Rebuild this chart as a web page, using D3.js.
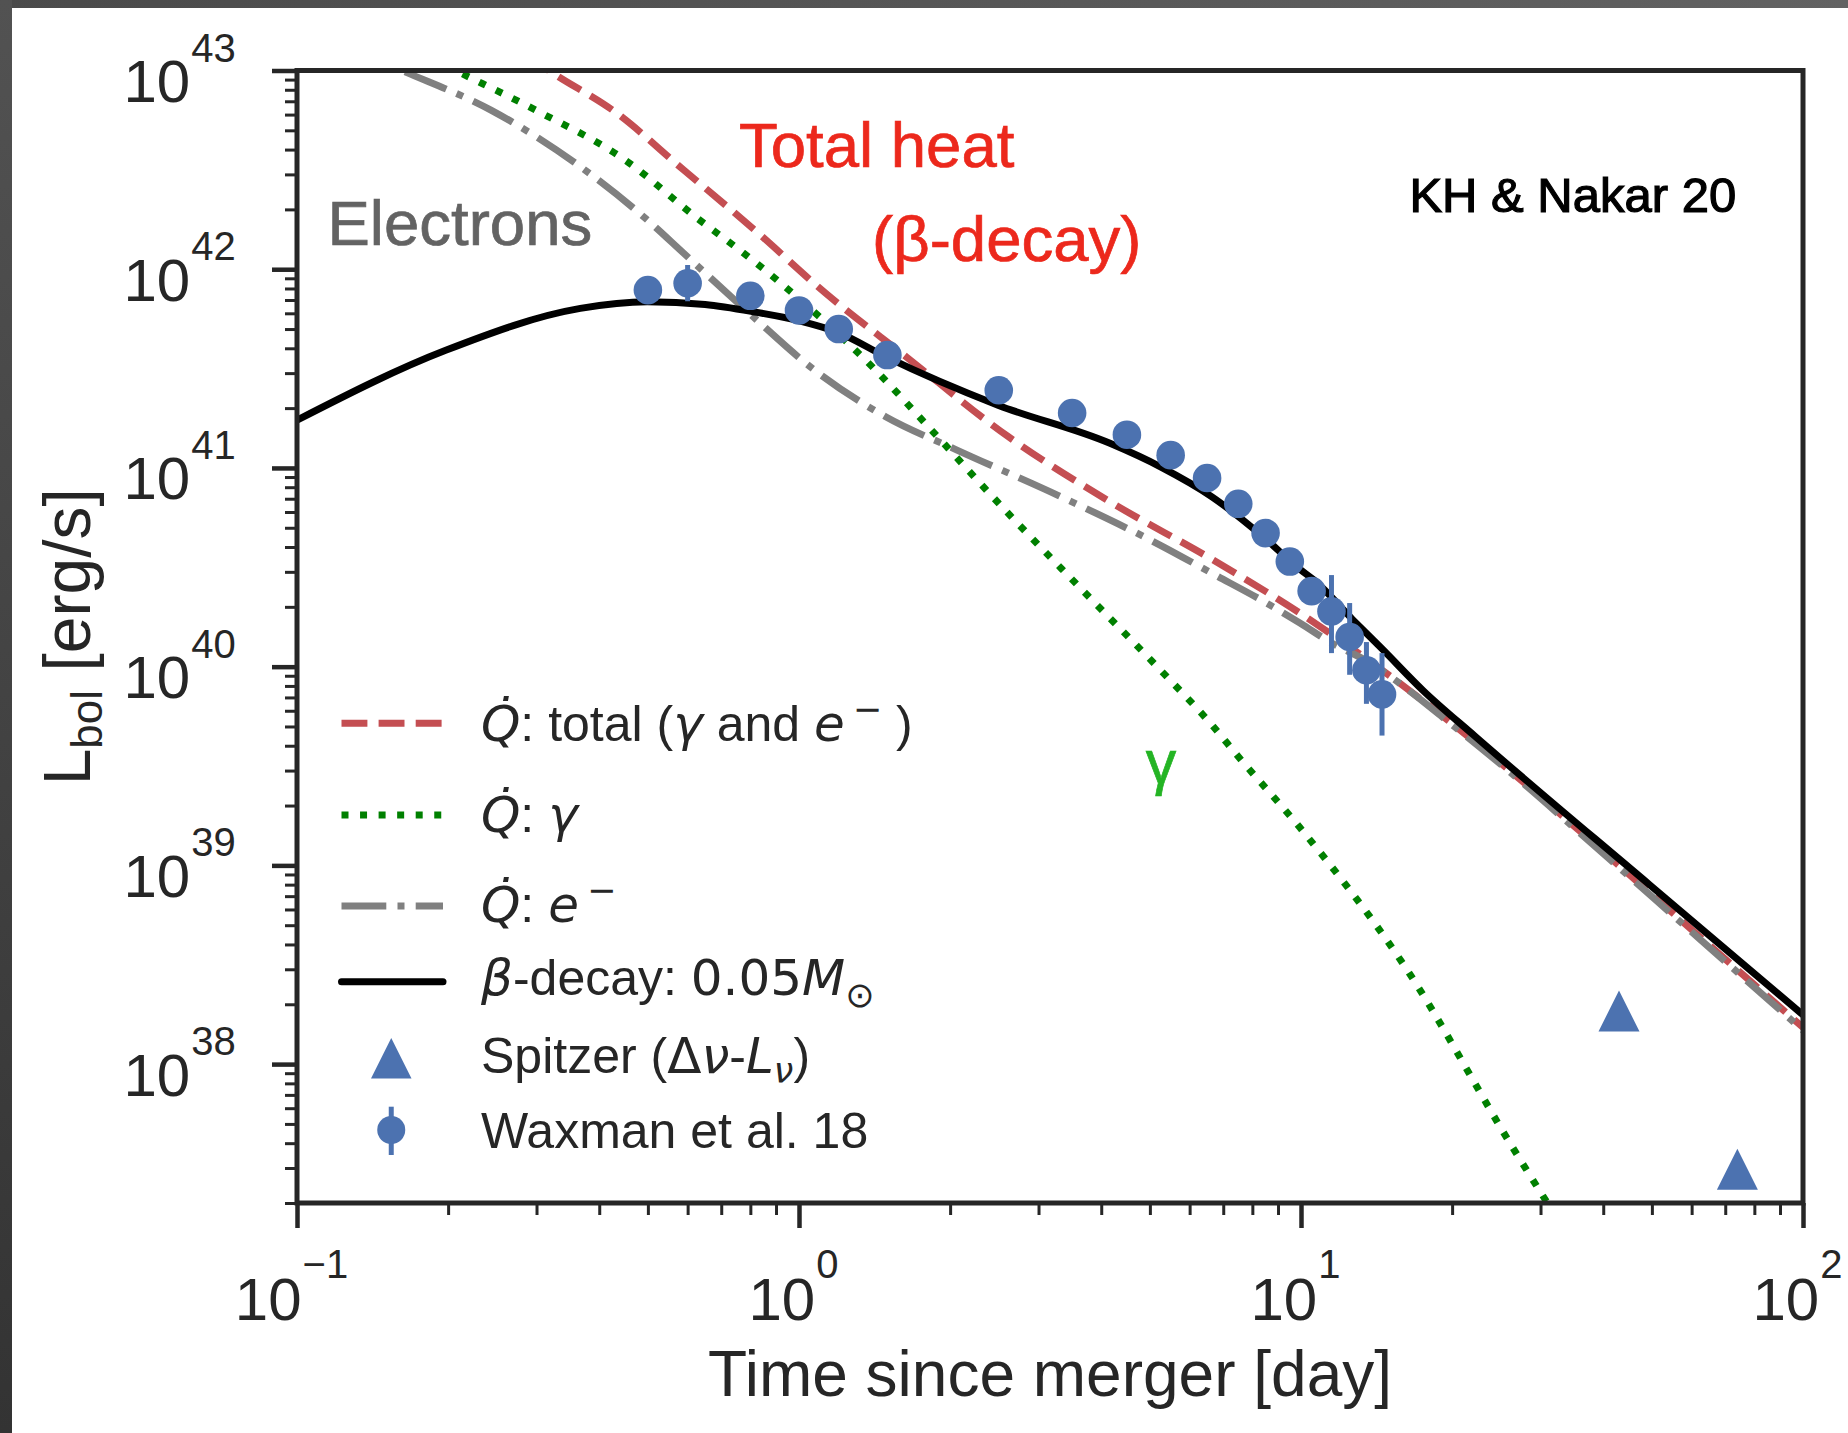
<!DOCTYPE html>
<html><head><meta charset="utf-8">
<script src="https://cdn.jsdelivr.net/npm/d3@7"></script>
<style>
html,body{margin:0;padding:0;background:#fff;}
svg{display:block;}
</style></head><body>
<svg id="chart" width="1848" height="1433"></svg>
<script>
// ---------------- data ----------------
const xTickExponents = [-1, 0, 1, 2];
const yTickExponents = [38, 39, 40, 41, 42, 43];

// Qdot: total (gamma and e-)
const totalHeatDays = [0.25, 0.3277, 0.426, 0.589, 0.815, 1.128, 1.634, 2.608, 4.164, 6.647, 9.95, 15.1, 27.8, 35.9, 61.9, 100];
const totalHeatLum  = [1.5e43, 9.49e42, 6.3e42, 3.16e42, 1.58e42, 7.6e41, 3.63e41, 1.44e41, 6.76e40, 3.47e40, 1.86e40, 8.91e39, 2.61e39, 1.49e39, 4.43e38, 1.53e38];

// Qdot: gamma
const gammaDays = [0.17, 0.207, 0.299, 0.45, 0.6245, 0.791, 1.098, 1.42, 1.836, 2.608, 3.622, 5.261, 6.68, 7.483, 9.95, 16.1, 26.6, 33];
const gammaLum  = [1.28e43, 1.0e43, 6.31e42, 3.55e42, 1.82e42, 1.16e42, 5.77e41, 3.11e41, 1.55e41, 5.92e40, 2.51e40, 9.55e39, 5.01e39, 3.55e39, 1.55e39, 3.1e38, 3.69e37, 1.55e37];

// Qdot: e-
const electronDays = [0.12, 0.1617, 0.2434, 0.3668, 0.4986, 0.59, 0.81, 1.073, 1.488, 2.064, 3.296, 5.261, 6.647, 8.4, 9.95, 11.43, 13.41, 20.2, 27.8, 35.9, 61.9, 100];
const electronLum  = [1.38e43, 1.0e43, 6.32e42, 3.28e42, 1.77e42, 1.2e42, 5.77e41, 3.11e41, 1.81e41, 1.23e41, 7.24e40, 4.07e40, 2.95e40, 2.14e40, 1.66e40, 1.33e40, 1.08e40, 5.0e39, 2.57e39, 1.46e39, 4.32e38, 1.48e38];

// beta-decay: 0.05 Msun
const betaDays = [0.1, 0.1984, 0.3668, 0.4986, 0.65, 0.81, 1.0, 1.2, 1.488, 2.491, 4.164, 5.261, 6.647, 8.4, 9.95, 10.61, 12.66, 14.5, 17.5, 22.2, 49.5, 100];
const betaLum  = [1.74e41, 3.92e41, 6.35e41, 6.86e41, 6.64e41, 6.11e41, 5.5e41, 4.79e41, 3.63e41, 2.07e41, 1.33e41, 1.01e41, 7.16e40, 4.51e40, 3.09e40, 2.73e40, 1.73e40, 1.23e40, 7.59e39, 4.47e39, 7.98e38, 1.77e38];

// Waxman et al. 18
const waxmanDays = [0.5, 0.6, 0.8, 1.0, 1.2, 1.5, 2.5, 3.5, 4.5, 5.5, 6.5, 7.5, 8.5, 9.5, 10.5, 11.5, 12.5, 13.5, 14.5];
const waxmanLum  = [7.85e41, 8.5e41, 7.35e41, 6.2e41, 5.0e41, 3.7e41, 2.46e41, 1.89e41, 1.47e41, 1.16e41, 8.9e40, 6.6e40, 4.7e40, 3.38e40, 2.4e40, 1.9e40, 1.41e40, 9.6e39, 7.25e39];
const waxmanErrDays = [0.6, 11.5, 12.5, 13.5, 14.5];
const waxmanErrLow  = [6.9e41, 1.17e40, 9.1e39, 6.5e39, 4.5e39];
const waxmanErrHigh = [1.05e42, 2.89e40, 2.09e40, 1.33e40, 1.17e40];

// Spitzer (Delta nu - L nu)
const spitzerDays = [43, 74];
const spitzerLum  = [1.85e38, 2.96e37];

// ---------------- setup ----------------
const SANS = "'Liberation Sans', Arial, Helvetica, sans-serif";
const MATH = "'DejaVu Sans', sans-serif";
const TXT = '#262626';
const BLUE = '#4C72B0';

const svg = d3.select('#chart');
const W = 1848, H = 1433;
const M = {left: 297, right: 1803, top: 70.5, bottom: 1203};

const x = d3.scaleLog().domain([0.1, 100]).range([M.left, M.right]);
const y = d3.scaleLog().domain([2e37, 1e43]).range([M.bottom, M.top]);

const defs = svg.append('defs');
const gTop = defs.append('linearGradient').attr('id', 'gtop').attr('x1', 0).attr('x2', 1).attr('y1', 0).attr('y2', 0);
gTop.append('stop').attr('offset', 0).attr('stop-color', '#4a4a4a');
gTop.append('stop').attr('offset', 1).attr('stop-color', '#626262');
const gLeft = defs.append('linearGradient').attr('id', 'gleft').attr('x1', 0).attr('x2', 0).attr('y1', 0).attr('y2', 1);
gLeft.append('stop').attr('offset', 0).attr('stop-color', '#525252');
gLeft.append('stop').attr('offset', 1).attr('stop-color', '#333333');
defs.append('clipPath').attr('id', 'plotclip').append('rect')
  .attr('x', M.left).attr('y', M.top).attr('width', M.right - M.left).attr('height', M.bottom - M.top);

svg.append('rect').attr('x', 0).attr('y', 0).attr('width', W).attr('height', H).attr('fill', '#fff');
svg.append('rect').attr('x', 0).attr('y', 0).attr('width', W).attr('height', 8).attr('fill', 'url(#gtop)');
svg.append('rect').attr('x', 0).attr('y', 0).attr('width', 12).attr('height', H).attr('fill', 'url(#gleft)');

// ---------------- curves ----------------
const pairs = (a, b) => a.map((v, i) => [v, b[i]]);
const line = d3.line().x(d => x(d[0])).y(d => y(d[1])).curve(d3.curveMonotoneX);
const LW = 7;
const series = [
  {data: pairs(totalHeatDays, totalHeatLum), color: '#C44E52', dash: `${3.7*LW},${1.6*LW}`, cap: 'butt'},
  {data: pairs(gammaDays, gammaLum), color: '#008000', dash: `${1*LW},${1.65*LW}`, cap: 'butt'},
  {data: pairs(electronDays, electronLum), color: '#808080', dash: `${6.4*LW},${1.6*LW},${1*LW},${1.6*LW}`, cap: 'butt'},
  {data: pairs(betaDays, betaLum), color: '#000000', dash: null, cap: 'round'}
];
const plot = svg.append('g').attr('clip-path', 'url(#plotclip)');
series.forEach(s => {
  plot.append('path').attr('d', line(s.data)).attr('fill', 'none')
    .attr('stroke', s.color).attr('stroke-width', LW)
    .attr('stroke-dasharray', s.dash).attr('stroke-linecap', s.cap).attr('stroke-linejoin', 'round');
});

// error bars + points
plot.selectAll('line.err').data(pairs(waxmanErrDays, waxmanErrLow.map((v, i) => [v, waxmanErrHigh[i]])))
  .enter().append('line').attr('class', 'err')
  .attr('x1', d => x(d[0])).attr('x2', d => x(d[0]))
  .attr('y1', d => y(d[1][0])).attr('y2', d => y(d[1][1]))
  .attr('stroke', BLUE).attr('stroke-width', 5);
plot.selectAll('circle.wax').data(pairs(waxmanDays, waxmanLum)).enter().append('circle').attr('class', 'wax')
  .attr('cx', d => x(d[0])).attr('cy', d => y(d[1])).attr('r', 14.3).attr('fill', BLUE);
const TRI = 41;
const triPath = (cx, cy, s) => `M${cx},${cy - s/2}L${cx + s/2},${cy + s/2}L${cx - s/2},${cy + s/2}Z`;
plot.selectAll('path.spz').data(pairs(spitzerDays, spitzerLum)).enter().append('path').attr('class', 'spz')
  .attr('d', d => triPath(x(d[0]), y(d[1]), TRI)).attr('fill', BLUE);

// ---------------- axes ----------------
const yMajor = yTickExponents.map(e => Math.pow(10, e));
const yMinor = [];
for (let e = 37; e <= 42; e++) for (let m = 2; m <= 9; m++) { const v = m * Math.pow(10, e); if (v >= 1.999e37 && v <= 1e43) yMinor.push(v); }
const xMajor = xTickExponents.map(e => Math.pow(10, e));
const xMinor = [];
for (let e = -1; e <= 1; e++) for (let m = 2; m <= 9; m++) xMinor.push(m * Math.pow(10, e));

function styleAxis(g, w) {
  g.select('.domain').remove();
  g.selectAll('.tick line').attr('stroke', TXT).attr('stroke-width', w);
  g.selectAll('.tick text').remove();
}
svg.append('g').attr('transform', `translate(${M.left},0)`)
  .call(d3.axisLeft(y).tickValues(yMinor).tickSize(12).tickFormat('')).call(g => styleAxis(g, 3));
svg.append('g').attr('transform', `translate(${M.left},0)`)
  .call(d3.axisLeft(y).tickValues(yMajor).tickSize(25).tickFormat('')).call(g => styleAxis(g, 4.5));
svg.append('g').attr('transform', `translate(0,${M.bottom})`)
  .call(d3.axisBottom(x).tickValues(xMinor).tickSize(12).tickFormat('')).call(g => styleAxis(g, 3));
svg.append('g').attr('transform', `translate(0,${M.bottom})`)
  .call(d3.axisBottom(x).tickValues(xMajor).tickSize(25).tickFormat('')).call(g => styleAxis(g, 4.5));

// frame
svg.append('rect').attr('x', M.left).attr('y', M.top).attr('width', M.right - M.left).attr('height', M.bottom - M.top)
  .attr('fill', 'none').attr('stroke', TXT).attr('stroke-width', 5);

const expLabel = e => (e < 0 ? '\u2212' + Math.abs(e) : String(e));
// y tick labels
yTickExponents.forEach(e => {
  const t = svg.append('text').attr('x', 123.5).attr('y', y(Math.pow(10, e)) + 31.5)
    .attr('font-family', SANS).attr('fill', TXT).attr('font-size', 60);
  t.append('tspan').text('10');
  t.append('tspan').attr('dx', 1).attr('dy', -40.5).attr('font-size', 40).text(expLabel(e));
});
// x tick labels
xTickExponents.forEach(e => {
  const t = svg.append('text').attr('x', x(Math.pow(10, e)) - 5.5).attr('y', 1320)
    .attr('font-family', SANS).attr('fill', TXT).attr('font-size', 60).attr('text-anchor', 'middle');
  t.append('tspan').text('10');
  t.append('tspan').attr('dx', 1).attr('dy', -42).attr('font-size', 40).text(expLabel(e));
});

// axis titles
svg.append('text').attr('x', (M.left + M.right) / 2).attr('y', 1396).attr('text-anchor', 'middle')
  .attr('font-family', SANS).attr('font-size', 64).attr('fill', TXT).text('Time since merger [day]');
const yl = svg.append('text').attr('transform', `translate(90,${(M.top + M.bottom) / 2}) rotate(-90)`)
  .attr('text-anchor', 'middle').attr('font-family', SANS).attr('font-size', 66).attr('fill', TXT);
yl.append('tspan').text('L');
yl.append('tspan').attr('font-size', 44).attr('dy', 12).text('bol');
yl.append('tspan').attr('dy', -12).text(' [erg/s]');

// ---------------- annotations ----------------
const annotations = [
  {text: 'Total heat', x: 739, y: 167.4, size: 63.5, color: '#EC281C', anchor: 'start', stroke: 0.7},
  {text: '(\u03B2-decay)', x: 872, y: 260.5, size: 63.5, color: '#EC281C', anchor: 'start', stroke: 0.7},
  {text: 'Electrons', x: 327.5, y: 245, size: 63.5, color: '#636363', anchor: 'start', stroke: 0.7},
  {text: 'KH & Nakar 20', x: 1409.4, y: 212, size: 49, color: '#000000', anchor: 'start', stroke: 1.2},
  {text: '\u03B3', x: 1161, y: 783, size: 61, color: '#24B424', anchor: 'middle', stroke: 0.7}
];
annotations.forEach(a => {
  svg.append('text').attr('x', a.x).attr('y', a.y).attr('text-anchor', a.anchor)
    .attr('font-family', SANS).attr('font-size', a.size).attr('fill', a.color)
    .attr('stroke', a.color).attr('stroke-width', a.stroke).text(a.text);
});

// ---------------- legend ----------------
const LEG_SIZE = 50;
const QDOT = 'Q\u0307';
const legendRows = [
  {hy: 723.3, by: 740.7, kind: 'line', s: 0,
   segs: [{t: QDOT, f: 'mi'}, {t: ': total (', f: 'r'}, {t: '\u03B3', f: 'mi'}, {t: ' and ', f: 'r'}, {t: 'e', f: 'mi'}, {t: '\u2212', f: 'm', sup: 20, dx: 8}, {t: ' )', f: 'r'}]},
  {hy: 815, by: 831.7, kind: 'line', s: 1,
   segs: [{t: QDOT, f: 'mi'}, {t: ': ', f: 'r'}, {t: '\u03B3', f: 'mi'}]},
  {hy: 906, by: 921.7, kind: 'line', s: 2,
   segs: [{t: QDOT, f: 'mi'}, {t: ': ', f: 'r'}, {t: 'e', f: 'mi'}, {t: '\u2212', f: 'm', sup: 20, dx: 8}]},
  {hy: 981.7, by: 995, kind: 'line', s: 3,
   segs: [{t: '\u03B2', f: 'mi'}, {t: '-decay: ', f: 'r'}, {t: '0.05', f: 'm'}, {t: 'M', f: 'mi'}, {t: '\u2299', f: 'm', sub: 12}]},
  {hy: 1058.3, by: 1073.3, kind: 'tri',
   segs: [{t: 'Spitzer (', f: 'r'}, {t: '\u0394', f: 'm'}, {t: '\u03BD', f: 'mi'}, {t: '-', f: 'r'}, {t: 'L', f: 'mi'}, {t: '\u03BD', f: 'mi', sub: 10}, {t: ')', f: 'r'}]},
  {hy: 1130, by: 1148.3, kind: 'circ',
   segs: [{t: 'Waxman et al. 18', f: 'r'}]}
];
const leg = svg.append('g');
const HX0 = 341.5, HX1 = 443, TX = 481;
legendRows.forEach(r => {
  if (r.kind === 'line') {
    const s = series[r.s];
    leg.append('line').attr('x1', HX0).attr('x2', HX1).attr('y1', r.hy).attr('y2', r.hy)
      .attr('stroke', s.color).attr('stroke-width', LW).attr('stroke-dasharray', s.dash).attr('stroke-linecap', s.cap);
  } else if (r.kind === 'tri') {
    leg.append('path').attr('d', triPath((HX0 + HX1) / 2 - 1, r.hy, 40.5)).attr('fill', BLUE);
  } else {
    const cx = (HX0 + HX1) / 2 - 1;
    leg.append('line').attr('x1', cx).attr('x2', cx).attr('y1', 1106.7).attr('y2', 1155).attr('stroke', BLUE).attr('stroke-width', 5);
    leg.append('circle').attr('cx', cx).attr('cy', r.hy).attr('r', 14).attr('fill', BLUE);
  }
  const t = leg.append('text').attr('x', TX).attr('y', r.by).attr('font-size', LEG_SIZE).attr('fill', TXT);
  let shift = 0;
  r.segs.forEach(sg => {
    const ts = t.append('tspan').text(sg.t).attr('font-family', sg.f === 'r' ? SANS : MATH);
    if (sg.f === 'mi') ts.attr('font-style', 'italic');
    const target = sg.sup ? -sg.sup : (sg.sub ? sg.sub : 0);
    if (target !== shift) ts.attr('dy', target - shift);
    shift = target;
    if (sg.sup || sg.sub) ts.attr('font-size', LEG_SIZE * 0.7);
    if (sg.dx) ts.attr('dx', sg.dx);
  });
});
</script>
</body></html>
